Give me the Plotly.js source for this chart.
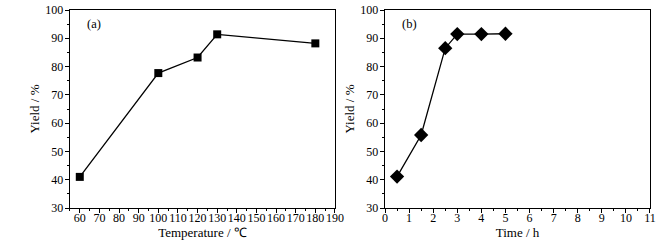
<!DOCTYPE html>
<html><head><meta charset="utf-8">
<script src="https://cdn.plot.ly/plotly-3.0.1.min.js"></script>
<style>html,body{margin:0;padding:0;background:#fff}#c{width:669px;height:243px}</style>
</head><body><div id="c"></div>
<script>
const tempX = [60, 100, 120, 130, 180];
const tempYield = [41.0, 77.7, 83.2, 91.4, 88.2];
const timeX = [0.5, 1.5, 2.5, 3, 4, 5];
const timeYield = [41.1, 55.8, 86.5, 91.5, 91.5, 91.6];
const panelLabels = ['(a)', '(b)'];
const xTitles = ['Temperature / ℃', 'Time / h'];
const yTitle = 'Yield / %';

const FONT = "'Liberation Serif', 'Times New Roman', serif";
const traces = [
  {x: tempX, y: tempYield, xaxis: 'x', yaxis: 'y', mode: 'lines+markers',
   line: {color: '#000', width: 1.3},
   marker: {symbol: 'square', size: 8, color: '#000'}},
  {x: timeX, y: timeYield, xaxis: 'x2', yaxis: 'y2', mode: 'lines+markers',
   line: {color: '#000', width: 1.3},
   marker: {symbol: 'diamond', size: 11, color: '#000'}}
];
function xa(domain, range, dtick, title, anchor) {
  return {domain, range, dtick, tick0: 0, anchor, showgrid: false, zeroline: false,
    showline: true, linecolor: '#000', linewidth: 1.3, mirror: true, tickangle: 0,
    ticks: 'outside', ticklen: 4, tickwidth: 1, tickcolor: '#000', ticklabelstandoff: -6,
    minor: {ticks: 'outside', ticklen: 2, tickwidth: 1, tickcolor: '#000', dtick: dtick / 2, showgrid: false},
    tickfont: {family: FONT, size: 12, color: '#000'},
    title: {text: title, font: {family: FONT, size: 13, color: '#000'}, standoff: 0}};
}
function ya(range, anchor) {
  return {domain: [0, 1], range, dtick: 10, tick0: 0, anchor, showgrid: false, zeroline: false,
    showline: true, linecolor: '#000', linewidth: 1.3, mirror: true,
    ticks: 'outside', ticklen: 4, tickwidth: 1, tickcolor: '#000', ticklabelstandoff: -1,
    minor: {ticks: 'outside', ticklen: 2, tickwidth: 1, tickcolor: '#000', dtick: 5, showgrid: false},
    tickfont: {family: FONT, size: 12, color: '#000'},
    title: {text: yTitle, font: {family: FONT, size: 13, color: '#000'}, standoff: 2}};
}
const layout = {
  width: 669, height: 243, showlegend: false,
  paper_bgcolor: '#fff', plot_bgcolor: '#fff',
  margin: {l: 0, r: 0, t: 10, b: 35},
  font: {family: FONT, color: '#000'},
  xaxis: xa([0.1046, 0.5007], [55, 190], 10, xTitles[0], 'y'),
  yaxis: ya([30, 100], 'x'),
  xaxis2: xa([0.5755, 0.9716], [0, 11], 1, xTitles[1], 'y2'),
  yaxis2: ya([30, 100], 'x2'),
  annotations: [
    {text: panelLabels[0], xref: 'x domain', yref: 'y domain', x: 0.055, y: 0.93, showarrow: false,
     xanchor: 'left', yanchor: 'middle', font: {family: FONT, size: 12.5, color: '#000'}},
    {text: panelLabels[1], xref: 'x2 domain', yref: 'y2 domain', x: 0.055, y: 0.93, showarrow: false,
     xanchor: 'left', yanchor: 'middle', font: {family: FONT, size: 12.5, color: '#000'}}
  ]
};
Plotly.newPlot('c', traces, layout, {staticPlot: true, displayModeBar: false});
</script></body></html>
